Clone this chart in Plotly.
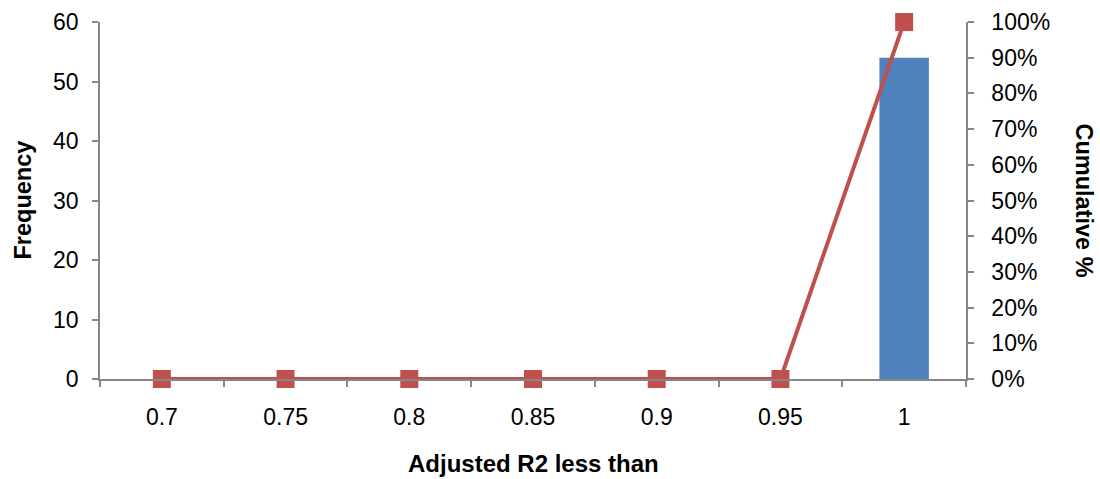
import plotly.graph_objects as go

# Histogram bins (upper bound of adjusted R2) with counts and cumulative share
bins = ["0.7", "0.75", "0.8", "0.85", "0.9", "0.95", "1"]
frequency = [0, 0, 0, 0, 0, 0, 54]
cumulative = [0.0, 0.0, 0.0, 0.0, 0.0, 0.0, 1.0]

AXIS_GREY = "#868686"
FONT = "Liberation Sans, Arial, sans-serif"

fig = go.Figure()

fig.add_trace(go.Bar(
    x=bins, y=frequency, name="Frequency",
    marker=dict(color="#4F81BD", line=dict(width=0)),
    width=0.4,
))

fig.add_trace(go.Scatter(
    x=bins, y=cumulative, name="Cumulative %", yaxis="y2",
    mode="lines+markers",
    line=dict(color="#C0504D", width=4),
    marker=dict(symbol="square", size=18, color="#C0504D"),
    cliponaxis=False,
))

title_font = dict(family=FONT, size=23.5, color="black")

fig.update_layout(
    width=1100, height=479,
    margin=dict(l=100, r=134, t=22, b=100),
    paper_bgcolor="white", plot_bgcolor="white",
    showlegend=False,
    font=dict(family=FONT, size=23, color="black"),
    xaxis=dict(
        type="category", automargin=False,
        showline=True, linecolor=AXIS_GREY, linewidth=1.5,
        ticks="outside", tickson="boundaries", ticklen=6, tickcolor=AXIS_GREY,
        tickwidth=1.5, ticklabelstandoff=17,
        showgrid=False, zeroline=False,
    ),
    yaxis=dict(
        range=[0, 60], dtick=10, automargin=False,
        showline=True, linecolor=AXIS_GREY, linewidth=1.5,
        ticks="outside", ticklen=6, tickcolor=AXIS_GREY, tickwidth=1.5,
        ticklabelstandoff=9,
        showgrid=False, zeroline=False,
    ),
    yaxis2=dict(
        overlaying="y", side="right", automargin=False,
        range=[0, 1], dtick=0.1, tickformat=".0%",
        showline=True, linecolor=AXIS_GREY, linewidth=1.5,
        ticks="outside", ticklen=6, tickcolor=AXIS_GREY, tickwidth=1.5,
        ticklabelstandoff=13,
        showgrid=False, zeroline=False,
    ),
    annotations=[
        dict(text="<b>Adjusted R2 less than</b>",
             xref="paper", yref="paper", x=0.5, y=0,
             xanchor="center", yanchor="middle", yshift=-(463 - 379),
             showarrow=False, font=dict(family=FONT, size=24, color="black")),
        dict(text="<b>Frequency</b>", textangle=-90,
             xref="paper", yref="paper", x=0, y=0.5,
             xanchor="center", yanchor="middle", xshift=22 - 100,
             showarrow=False, font=title_font),
        dict(text="<b>Cumulative %</b>", textangle=90,
             xref="paper", yref="paper", x=1.0, y=0.5,
             xanchor="center", yanchor="middle", xshift=1084 - 966,
             showarrow=False, font=title_font),
    ],
)

fig.write_html("out.html")
